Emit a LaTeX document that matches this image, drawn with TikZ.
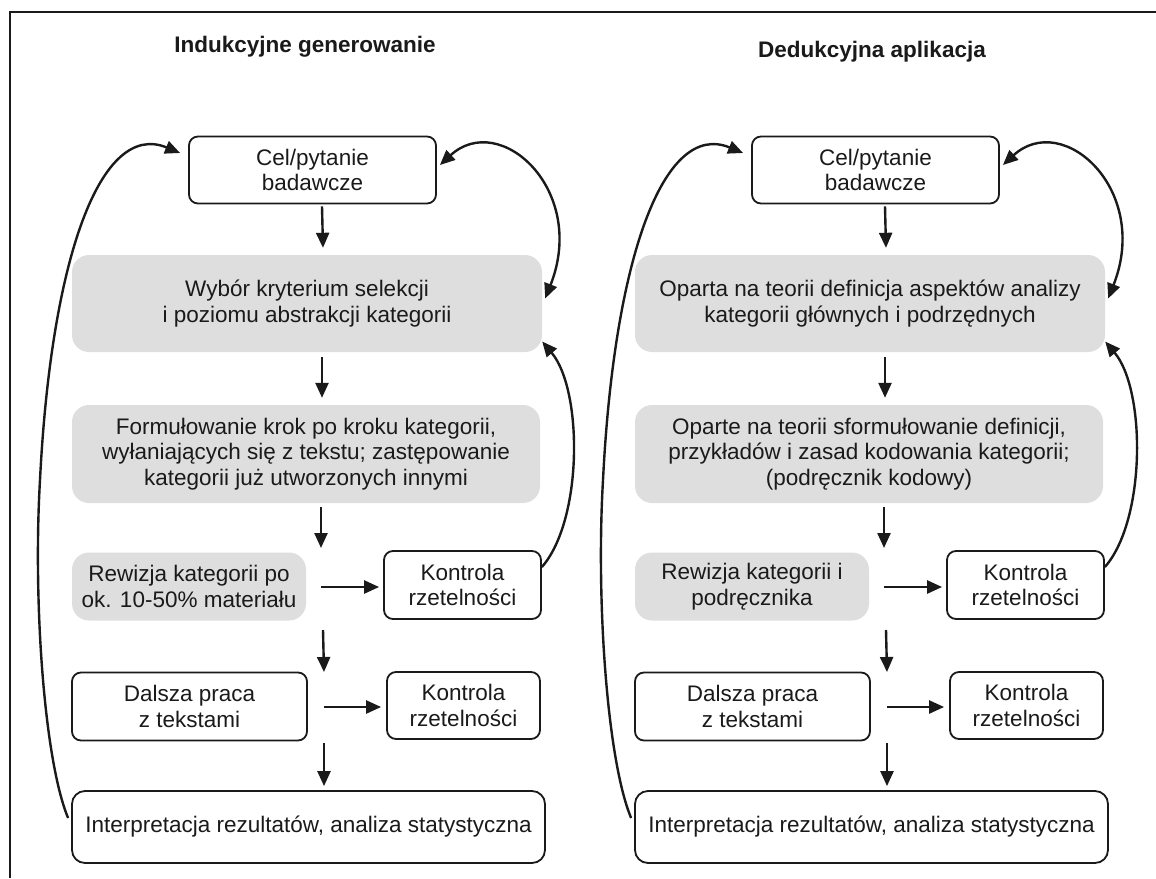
\documentclass[tikz,border=0pt]{standalone}
\usepackage{fontspec}
\setmainfont{Liberation Sans}
\usetikzlibrary{arrows.meta,calc}
\definecolor{boxgray}{HTML}{DEDEDE}
\definecolor{ink}{HTML}{1A1A1A}
\tikzset{
  every node/.style={font=\fontsize{22.5}{25.7}\selectfont, text=ink},
  wbox/.style={draw=ink, line width=1.8pt, rounded corners=9pt, fill=white, align=center, inner sep=0pt},
  gbox/.style={fill=boxgray, rounded corners=17pt, align=center, inner sep=0pt},
  arr/.style={draw=ink, line width=2.4pt, -{Triangle[length=15pt,width=13pt]}},
  darr/.style={draw=ink, line width=2.4pt, {Triangle[length=15pt,width=13pt]}-{Triangle[length=15pt,width=13pt]}},
  ttl/.style={font=\bfseries\fontsize{22.5}{26}\selectfont},
  frameline/.style={draw=ink, line width=1.3pt},
}
\newcommand\drawcol[7]{%
\begin{scope}[xshift=#2pt]
  \node[ttl] (#1t) at #4 {#3};
  \node[wbox, minimum width=247pt, minimum height=67pt] (#1c) at (312.5,170) {Cel/pytanie\\badawcze};
  \node[gbox, minimum width=470pt, minimum height=97pt] (#1g1) at (307,303.5) {#5};
  \node[gbox, minimum width=468pt, minimum height=98pt] (#1g2) at (306,454) {#6};
  \node[gbox, minimum width=234pt, minimum height=68pt] (#1g3) at (189,586.5) {#7};
  \node[wbox, minimum width=157pt, minimum height=68pt] (#1k1) at (462.5,585) {Kontrola\\rzetelności};
  \node[wbox, minimum width=235pt, minimum height=68pt] (#1d) at (189.5,706.5) {Dalsza praca\\z tekstami};
  \node[wbox, minimum width=153pt, minimum height=67pt] (#1k2) at (463.5,705.5) {Kontrola\\rzetelności};
  \node[wbox, rounded corners=13pt, minimum width=473pt, minimum height=72pt] (#1i) at (308.5,827) {Interpretacja rezultatów, analiza statystyczna};
  \coordinate (#1r1) at (321,587);
  \coordinate (#1r2) at (324,707);
  \draw[arr] ($(#1c.south)+(9.5,2)$) -- ($(#1g1.north)+(16,-7)$);
  \draw[arr] ($(#1g1.south)+(15,5)$) -- ($(#1g2.north)+(16,-7)$);
  \draw[arr] ($(#1g2.south)+(15,4)$) -- ($(#1r1)+(0,-39)$);
  \draw[arr, shorten >=4pt] (#1r1) -- (#1r1 -| #1k1.west);
  \draw[arr] ($(#1r1)+(2,43)$) -- ($(#1r2)+(0,-35)$);
  \draw[arr, shorten >=5pt] (#1r2) -- (#1r2 -| #1k2.west);
  \draw[arr] ($(#1r2)+(0,36)$) -- ($(#1i.north)+(15.5,-4)$);
  \draw[arr] ($(#1i.west)+(-3,-9)$) .. controls (44,760) and (33,600) .. (40,480)
     .. controls (51,260) and (100,120) .. ($(#1c.west)+(-8,-17)$);
  \draw[darr] ($(#1c.east)+(3,-5)$) .. controls (500,110) and (588,190) .. ($(#1g1.east)+(3,-5)$);
  \draw[arr] ($(#1k1.east)+(0,-18)$) .. controls (583,520) and (583,390) .. ($(#1g1.east)+(0,38)$);
\end{scope}}
\begin{document}
\begin{tikzpicture}[x=1pt,y=-1pt]
  \useasboundingbox (0,0) rectangle (1156,878);
  \draw[frameline] (10,878) -- (10,12) -- (1156,12);
  \drawcol{L}{0}{Indukcyjne generowanie}{(305,47)}
    {Wybór kryterium selekcji\\i poziomu abstrakcji kategorii}
    {Formułowanie krok po kroku kategorii,\\wyłaniających się z tekstu; zastępowanie\\kategorii już utworzonych innymi}
    {Rewizja kategorii po\\ok. 10-50\% materiału}
  \drawcol{R}{563}{Dedukcyjna aplikacja}{(309,52)}
    {Oparta na teorii definicja aspektów analizy\\kategorii głównych i podrzędnych}
    {Oparte na teorii sformułowanie definicji,\\przykładów i zasad kodowania kategorii;\\(podręcznik kodowy)}
    {Rewizja kategorii i\\podręcznika}
\end{tikzpicture}
\end{document}
